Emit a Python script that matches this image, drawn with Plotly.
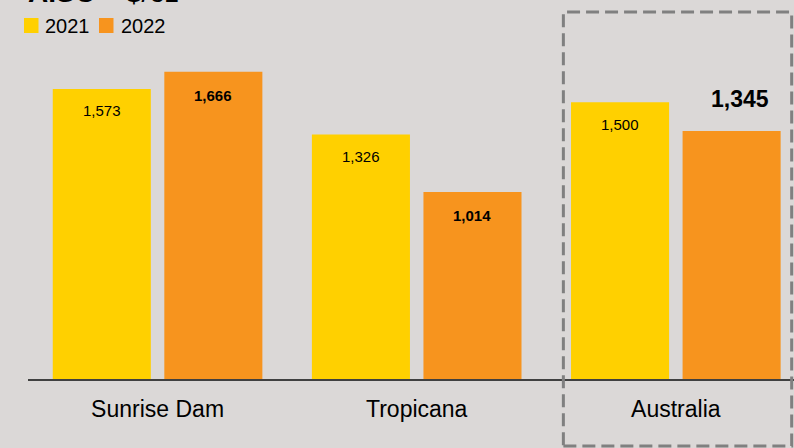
import plotly.graph_objects as go

categories = ["Sunrise Dam", "Tropicana", "Australia"]
years = ["2021", "2022"]
values_2021 = [1573, 1326, 1500]
values_2022 = [1666, 1014, 1345]
labels_2021 = ["1,573", "1,326", "1,500"]
labels_2022 = ["1,666", "1,014", "1,345"]

BG = "#dbd8d7"
YELLOW = "#ffd000"
ORANGE = "#f7941e"
FONT = "Arial, Liberation Sans, sans-serif"

fig = go.Figure()
fig.add_trace(go.Bar(x=categories, y=values_2021, name=years[0], marker_color=YELLOW,
                     marker_line_width=0, hoverinfo="skip", showlegend=False))
fig.add_trace(go.Bar(x=categories, y=values_2022, name=years[1], marker_color=ORANGE,
                     marker_line_width=0, hoverinfo="skip", showlegend=False))

off = 0.215
for i, c in enumerate(categories):
    fig.add_annotation(x=i - off, y=values_2021[i], xref="x", yref="y", text=labels_2021[i],
                       showarrow=False, yshift=-22, font=dict(size=15, color="#000", family=FONT))
    if i < 2:
        fig.add_annotation(x=i + off, y=values_2022[i], xref="x", yref="y",
                           text="<b>" + labels_2022[i] + "</b>",
                           showarrow=False, yshift=-24, font=dict(size=15, color="#000", family=FONT))
    else:
        fig.add_annotation(x=i + off, y=values_2022[i], xref="x", yref="y",
                           text="<b>" + labels_2022[i] + "</b>", xshift=8,
                           showarrow=False, yshift=32, font=dict(size=23, color="#000", family=FONT))

# title, clipped at top as in the reference
fig.add_annotation(x=0, y=1, xref="paper", yref="paper", xanchor="left", yanchor="bottom",
                   text="<b>AISC</b> – $/oz", showarrow=False, yshift=-10, xshift=-2,
                   font=dict(size=28, color="#000", family=FONT))

# custom legend (squares + labels)
W, H = 766.0, 379.0
def px_x(p):
    return (p - 28) / W
def px_y(p):
    return (379 - p) / H

legend_colors = [YELLOW, ORANGE]
sq_left = [24, 99]
txt_left = [43, 119]
for k in range(2):
    fig.add_shape(type="rect", xref="paper", yref="paper",
                  x0=px_x(sq_left[k]), x1=px_x(sq_left[k] + 14.5),
                  y0=px_y(33), y1=px_y(18), fillcolor=legend_colors[k], line_width=0)
    fig.add_annotation(x=px_x(txt_left[k]), y=px_y(26), xref="paper", yref="paper",
                       xanchor="left", yanchor="middle", text=years[k], showarrow=False,
                       font=dict(size=20, color="#000", family=FONT))

# dashed highlight box
fig.add_shape(type="rect", xref="x", yref="paper", x0=1.566, x1=2.447, y0=-0.177, y1=px_y(12),
              line=dict(color="#808080", width=3, dash="13px,6px"), fillcolor="rgba(0,0,0,0)",
              layer="above")

fig.update_layout(
    width=794, height=448,
    paper_bgcolor=BG, plot_bgcolor=BG,
    margin=dict(l=28, r=0, t=0, b=69),
    barmode="group", bargap=0.139, bargroupgap=0.121,
    font=dict(family=FONT, color="#000"),
    showlegend=False,
    xaxis=dict(range=[-0.5, 2.456], showline=True, linecolor="#404040", linewidth=1.5,
               ticks="", showgrid=False, tickfont=dict(size=23, family=FONT, color="#000"),
               ticklabelstandoff=9, fixedrange=True),
    yaxis=dict(range=[0, 2055], visible=False, showgrid=False, zeroline=False, fixedrange=True),
)

fig.write_html("out.html", config={"displayModeBar": False},
               post_script="document.body.style.margin='0';document.body.style.overflow='hidden';")
